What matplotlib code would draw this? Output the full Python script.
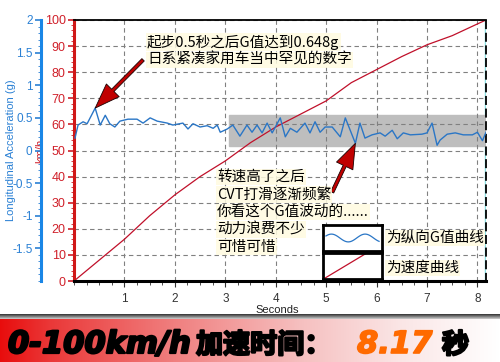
#!/usr/bin/env python3
# -*- coding: utf-8 -*-

import numpy as np
import matplotlib
matplotlib.use("Agg")
import matplotlib.pyplot as plt
import matplotlib.patheffects as pe
from matplotlib.patches import Rectangle
from matplotlib.ticker import MultipleLocator, FixedLocator

# Данные: продольное ускорение (g) по времени
g_time = [0.02, 0.08, 0.18, 0.26, 0.42, 0.52, 0.62, 0.71, 0.81, 0.91,
          1.07, 1.25, 1.37, 1.51, 1.65, 1.85, 1.96, 2.16, 2.26, 2.36,
          2.50, 2.64, 2.76, 2.84, 2.90, 3.04, 3.15, 3.29, 3.43, 3.53,
          3.63, 3.73, 3.83, 3.93, 4.09, 4.19, 4.29, 4.42, 4.58, 4.68,
          4.78, 4.88, 4.98, 5.12, 5.28, 5.38, 5.58, 5.67, 5.77, 5.91,
          6.07, 6.17, 6.31, 6.41, 6.53, 6.67, 6.90, 7.00, 7.10, 7.20,
          7.26, 7.40, 7.56, 7.72, 7.90, 8.00, 8.10, 8.17]
g_value = [0.19, 0.39, 0.44, 0.41, 0.65, 0.39, 0.54, 0.41, 0.36, 0.45,
           0.48, 0.48, 0.42, 0.50, 0.45, 0.42, 0.39, 0.42, 0.33, 0.41,
           0.36, 0.38, 0.34, 0.39, 0.28, 0.33, 0.39, 0.22, 0.39, 0.28,
           0.39, 0.27, 0.42, 0.27, 0.50, 0.21, 0.34, 0.28, 0.42, 0.27,
           0.44, 0.28, 0.36, 0.36, 0.21, 0.50, 0.11, 0.42, 0.19, 0.24,
           0.27, 0.22, 0.31, 0.18, 0.27, 0.24, 0.25, 0.27, 0.42, 0.08,
           0.16, 0.25, 0.27, 0.24, 0.24, 0.28, 0.15, 0.28]

# Скорость (km/h)
speed_time = [0, 0.5, 1.0, 1.5, 2.0, 2.5, 3.0, 3.5, 4.0, 4.5, 5.0,
              5.5, 6.0, 6.5, 7.0, 7.5, 8.0, 8.17]
speed_kmh = [0, 8, 16, 25, 33, 40, 46, 53, 59, 64, 69,
             76, 81, 86, 90.5, 94, 98.5, 100]

t_end = 8.17
x_ticks = [1, 2, 3, 4, 5, 6, 7, 8]
kmh_ticks = [0, 10, 20, 30, 40, 50, 60, 70, 80, 90, 100]
g_ticks = [-1.5, -1, -0.5, 0, 0.5, 1, 1.5, 2]

# Серая область колебаний
band_t = (3.07, 8.17)
band_kmh = (51.7, 63.6)

note_top = ["起步0.5秒之后G值达到0.648g", "日系紧凑家用车当中罕见的数字"]
note_mid = ["转速高了之后", "CVT打滑逐渐频繁", "你看这个G值波动的......",
            "动力浪费不少", "可惜可惜"]
legend_labels = ["为纵向G值曲线", "为速度曲线"]
title_parts = ["0-100km/h", "加速时间：", "8.17", "秒"]

RED = "#d0202a"
BLUE = "#2a80d4"
CJK = ["Noto Sans CJK SC", "DejaVu Sans"]
W, H = 500, 362

plt.rcParams["font.family"] = ["Liberation Sans", "Noto Sans CJK SC"]


def px(x, y):
    """Пиксели картинки -> доли фигуры"""
    return x / W, 1 - y / H


fig = plt.figure(figsize=(5, 3.62), dpi=100)
ax = fig.add_axes([74 / W, 1 - 281 / H, 412 / W, 261 / H])
ax.set_zorder(2)

# Скорость
ax.add_patch(Rectangle((band_t[0], band_kmh[0]), band_t[1] - band_t[0],
                       band_kmh[1] - band_kmh[0], color="#bebebe", zorder=1))
ax.plot(speed_time, speed_kmh, color="#c0102a", lw=0.9, zorder=2)
ax.set_xlim(0, t_end)
ax.set_ylim(0, 100)
ax.xaxis.set_major_locator(FixedLocator(x_ticks))
ax.xaxis.set_minor_locator(MultipleLocator(0.25))
ax.yaxis.set_major_locator(FixedLocator(kmh_ticks))
ax.yaxis.set_minor_locator(MultipleLocator(2))
ax.grid(True, which="major", ls=(0, (4, 3)), color="#808080", lw=0.8)
ax.tick_params(axis="y", which="both", colors=RED, labelsize=9, pad=2)
ax.tick_params(axis="y", which="major", length=4, width=1.2)
ax.tick_params(axis="y", which="minor", length=2)
ax.tick_params(axis="x", which="both", colors="#333333", labelsize=8.5, pad=5)
ax.tick_params(axis="x", which="major", length=4)
ax.tick_params(axis="x", which="minor", length=3)
ax.spines["left"].set_color("#d01818")
ax.spines["left"].set_linewidth(2.2)
ax.spines["bottom"].set_linewidth(2.2)
ax.spines["top"].set_linewidth(1.3)
ax.spines["right"].set_linestyle((0, (4, 3)))
ax.spines["right"].set_linewidth(1.3)
ax.axvline(t_end, color="#8fe3e6", lw=2.5, zorder=0)
ax.set_xlabel("Seconds", fontsize=8, color="#222222")
ax.xaxis.set_label_coords(0.493, -0.092)
ax.set_ylabel("km/h", fontsize=8, color=RED)
ax.yaxis.set_label_coords(-0.07, 0.5)

# Ускорение
ax2 = ax.twinx()
ax2.plot(g_time, g_value, color="#2a76c6", lw=1.0)
ax2.set_ylim(-2, 2)
ax2.yaxis.tick_left()
ax2.yaxis.set_label_position("left")
ax2.spines["left"].set_position(("outward", 23.8))
ax2.spines["left"].set_color("#1a86e6")
ax2.spines["left"].set_linewidth(2.2)
for s in ["right", "top", "bottom"]:
    ax2.spines[s].set_visible(False)
ax2.yaxis.set_major_locator(FixedLocator(g_ticks))
ax2.yaxis.set_major_formatter(plt.FormatStrFormatter("%g"))
ax2.yaxis.set_minor_locator(MultipleLocator(0.1))
ax2.tick_params(axis="y", which="both", colors=BLUE, labelsize=8.5, pad=2)
ax2.tick_params(axis="y", which="major", length=4, width=1.2)
ax2.tick_params(axis="y", which="minor", length=2)
ax2.set_ylabel("Longitudinal Acceleration (g)", fontsize=8, color=BLUE)
ax2.yaxis.set_label_coords(-0.14, 0.5)

# Подписи с фоном
bbox = dict(boxstyle="square,pad=0.08", fc="#fffbe0", ec="none", alpha=0.85)
for i, line in enumerate(note_top):
    fig.text(*px(147, 42 + 18 * i), line, family=CJK, fontsize=10.5,
             va="center", ha="left", bbox=bbox, zorder=5)
for i, line in enumerate(note_mid):
    fig.text(*px(217, 177 + 17.5 * i), line, family=CJK, fontsize=10.5,
             va="center", ha="left", bbox=bbox, zorder=5)

arrow = dict(arrowstyle="simple,head_length=0.9,head_width=0.65,tail_width=0.12",
             fc="#c00000", ec="#1a0000", lw=0.6, mutation_scale=20,
             shrinkA=0, shrinkB=0)
i_peak = int(np.argmax(g_value))
ax2.annotate("", xy=(g_time[i_peak], g_value[i_peak]), xytext=(1.37, 1.39),
             arrowprops=arrow)
i_dip = int(np.argmin(g_value[40:50])) + 40
ax2.annotate("", xy=(g_time[i_dip], g_value[i_dip]),
             xytext=(5.12, -0.64), arrowprops=arrow)

# Легенда в рамках
leg_boxes = [(323, 225), (323, 253)]
for k, (bx, by) in enumerate(leg_boxes):
    lax = fig.add_axes([bx / W, 1 - (by + 26) / H, 59 / W, 26 / H])
    lax.set_zorder(3)
    lax.set_xlim(0, 1)
    lax.set_ylim(0, 1)
    lax.set_xticks([])
    lax.set_yticks([])
    lax.patch.set_facecolor("white")
    for s in lax.spines.values():
        s.set_linewidth(2)
    if k == 0:
        u = np.linspace(0.05, 0.95, 60)
        lax.plot(u, 0.5 + 0.15 * np.sin(u * 11), color="#2a76c6", lw=0.9)
    else:
        lax.plot([0.03, 0.72], [0.03, 0.97], color="#c0102a", lw=0.9)
    fig.text(*px(386, 238 + 30 * k), legend_labels[k], family=CJK,
             fontsize=10.5, va="center", ha="left", bbox=bbox)

# Нижняя плашка с градиентом
bax = fig.add_axes([0, 0, 1, 48 / H])
bax.set_zorder(1)
bax.set_axis_off()
xs = np.linspace(0, 1, 500)
gb = np.interp(xs, [0, 0.1, 0.35, 0.6, 0.8, 1.0],
               [0.05, 0.22, 0.5, 0.75, 0.9, 1.0])
rows = np.ones((48, 500, 3))
rows[:, :, 0] = np.interp(xs, [0, 1], [0.91, 1.0])
rows[:, :, 1] = gb
rows[:, :, 2] = gb
shade = np.linspace(0.25, 0.75, 5)
for j, s in enumerate(shade):
    rows[j, :, :] = s
bax.imshow(rows, aspect="auto", extent=[0, 1, 0, 1])

heavy = [pe.withStroke(linewidth=1.6, foreground="black")]
heavy_or = [pe.withStroke(linewidth=1.2, foreground="#ff6a00")]
title_x = [8, 196, 357, 442]
for txt, x in zip(title_parts, title_x):
    if txt in ("0-100km/h", "8.17"):
        orange = txt == "8.17"
        fig.text(*px(x, 353), txt, family="DejaVu Sans", weight="bold",
                 style="italic", fontsize=22, zorder=6,
                 color="#ff6a00" if orange else "black",
                 path_effects=heavy_or if orange else heavy)
    else:
        fig.text(*px(x, 353), txt, family=CJK, weight="bold", fontsize=19.5,
                 color="black", zorder=6, path_effects=heavy)

fig.savefig("out.png", dpi=100)
